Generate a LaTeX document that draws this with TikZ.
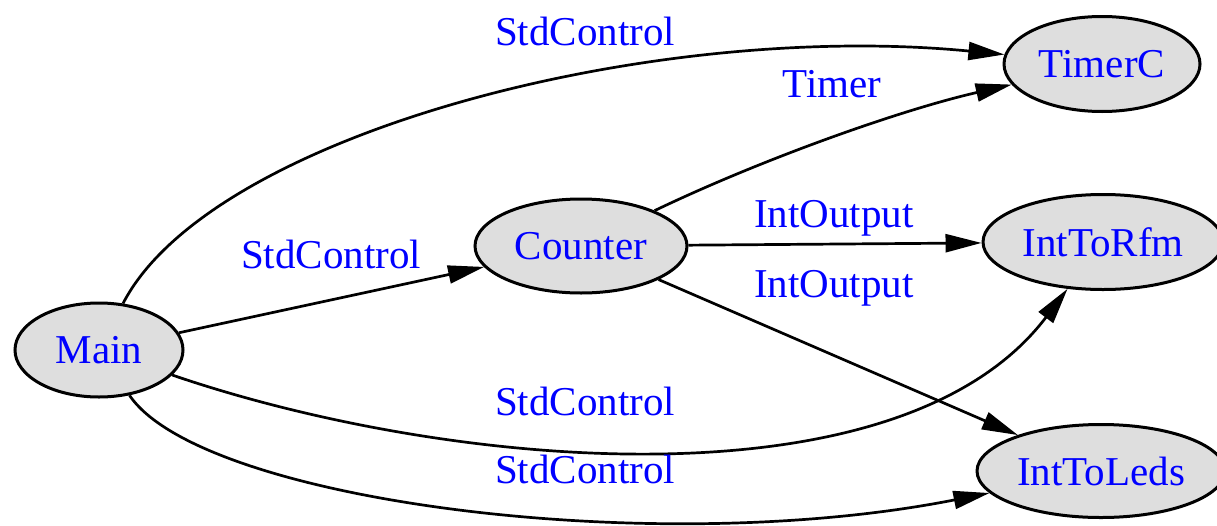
\documentclass[tikz,border=0pt]{standalone}
\usepackage{fontspec}
\setmainfont{Liberation Serif}
\usetikzlibrary{arrows.meta,shapes.geometric}
\definecolor{nodegray}{RGB}{222,222,222}
\definecolor{lblue}{RGB}{0,0,255}
\begin{document}
\begin{tikzpicture}[x=1pt,y=-1pt,
  comp/.style={ellipse, draw, line width=3pt, fill=nodegray, inner sep=0pt,
    text=lblue, font=\fontsize{41}{49}\selectfont},
  lbl/.style={text=lblue, font=\fontsize{41}{49}\selectfont, inner sep=0pt, anchor=base},
  wire/.style={line width=2.7pt, -{Triangle[length=36pt,width=18pt]}}]
\useasboundingbox (0,0) rectangle (1217,525);
\clip (0,0) rectangle (1217,525);
\node[comp, minimum width=168pt, minimum height=94pt] (Main) at (99,350) {Main};
\node[comp, minimum width=212pt, minimum height=94pt] (Counter) at (581,246) {Counter};
\node[comp, minimum width=196pt, minimum height=95pt] (TimerC) at (1102,64) {TimerC};
\node[comp, minimum width=240pt, minimum height=95pt] (IntToRfm) at (1103,242) {IntToRfm};
\node[comp, minimum width=248pt, minimum height=93pt] (IntToLeds) at (1101,471) {IntToLeds};

\draw[wire] (Main) .. controls (210,135) and (650,20) .. (TimerC);
\draw[wire] (Counter) .. controls (760,160) and (900,110) .. (TimerC);
\draw[wire] (Counter) -- (IntToRfm);
\draw[wire] (Counter) -- (IntToLeds);
\draw[wire] (Main) -- (Counter);
\draw[wire] (Main) .. controls (450,470) and (900,510) .. (IntToRfm);
\draw[wire] (Main) .. controls (200,500) and (650,560) .. (IntToLeds);

\node[lbl] (l1) at (585,45) {StdControl};
\node[lbl] (l2) at (832,97) {Timer};
\node[lbl] (l3) at (834,227) {IntOutput};
\node[lbl] (l4) at (834,297) {IntOutput};
\node[lbl] (l5) at (331,268) {StdControl};
\node[lbl] (l6) at (585,415) {StdControl};
\node[lbl] (l7) at (585,483) {StdControl};
\end{tikzpicture}
\end{document}
